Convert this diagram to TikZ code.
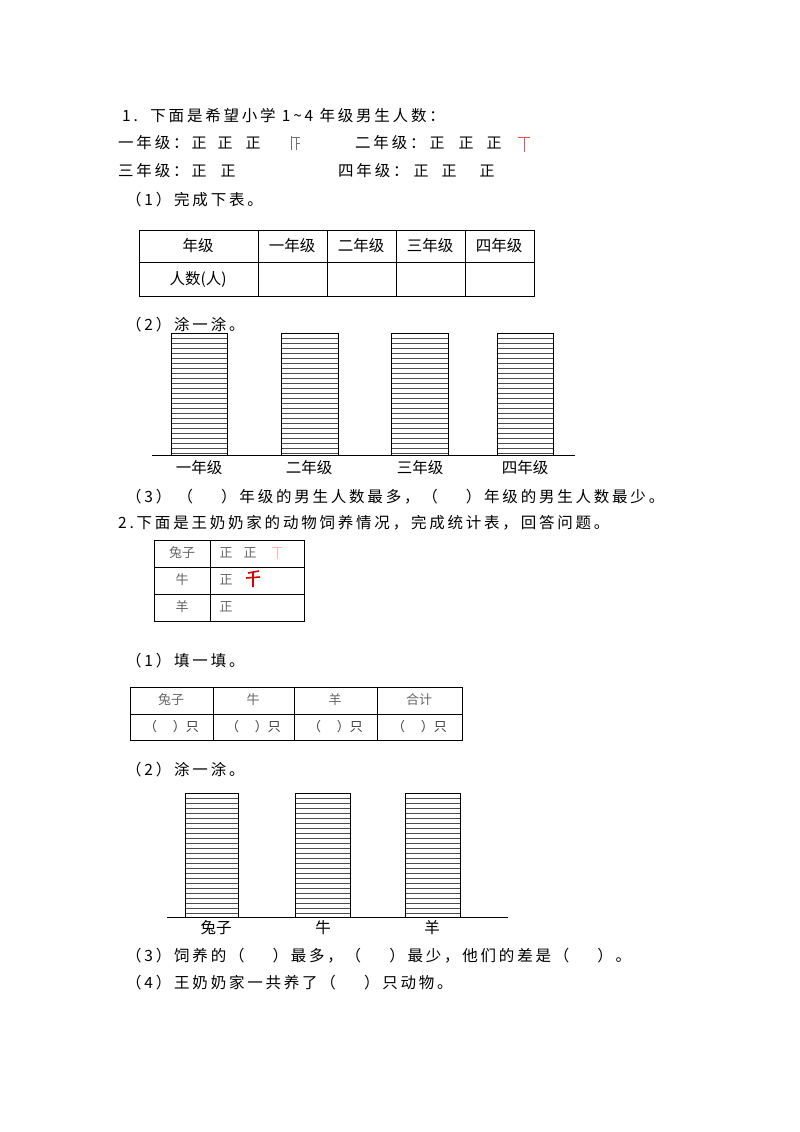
\documentclass[tikz,border=0pt]{standalone}
\usepackage{fontspec}
\setmainfont{Noto Sans CJK SC}[LetterSpace=18]
\newfontfamily\plainf{Noto Sans CJK SC}
\begin{document}
\begin{tikzpicture}[x=1pt,y=-1pt,
 t/.style={anchor=west,inner sep=0pt,font=\fontsize{15.5}{18}\selectfont},
 c/.style={anchor=center,inner sep=0pt,font=\plainf\fontsize{15.5}{18}\selectfont},
 tally/.style={anchor=center,inner sep=0pt,font=\plainf\fontsize{15}{18}\selectfont},
 s/.style={anchor=center,inner sep=0pt,font=\plainf\fontsize{13}{16}\selectfont,text=black!60}]
\useasboundingbox (0,0) rectangle (800,1132);
\fill[white] (0,0) rectangle (800,1132);
\node[t] (l1) at (122,116) {1.\ \ 下面是希望小学 1\textasciitilde 4 年级男生人数：};
\node[t] (l2) at (118,143) {一年级：};
\foreach \x in {199,225,253} \node[tally] at (\x,143) {正};
\draw[black!55,line width=0.8pt] (291,136)--(291,150) (291,137)--(300,137) (296,137)--(296,150) (296,143)--(300,143);
\node[t] (l2b) at (355,143) {二年级：};
\foreach \x in {437,466,494} \node[tally] at (\x,143) {正};
\draw[red!70,line width=0.9pt] (518,137)--(530,137) (524,137)--(524,152);
\node[t] (l3) at (118,171) {三年级：};
\foreach \x in {199,228} \node[tally] at (\x,171) {正};
\node[t] (l3b) at (338,171) {四年级：};
\foreach \x in {421,449,487} \node[tally] at (\x,171) {正};
\node[t] (q1) at (126,200) {（1）完成下表。};
% table 1
\draw[line width=0.9pt] (139,230) rectangle (534,296);
\draw[line width=0.7pt] (139,262)--(534,262);
\foreach \x in {258,327,396,465} \draw[line width=0.7pt] (\x,230)--(\x,296);
\node[c] (h0) at (198,246) {年级};
\node[c] (h1) at (292,246) {一年级};
\node[c] (h2) at (361,246) {二年级};
\node[c] (h3) at (430,246) {三年级};
\node[c] (h4) at (499,246) {四年级};
\node[c] (r0) at (198,279) {人数(人)};
\node[t] (q2) at (126,325) {（2）涂一涂。};
% chart 1
\foreach \a/\b in {171/227,281/338,391/448,497/553}{
 \foreach \k in {0,...,24} \draw[black!70,line width=0.5pt] (\a,333+\k*5)--(\b,333+\k*5);
 \draw[line width=0.8pt] (\a,333) rectangle (\b,455);}
\draw[line width=0.8pt] (152,455)--(575,455);
\node[c] (g1) at (199,468) {一年级};
\node[c] (g2) at (309,468) {二年级};
\node[c] (g3) at (420,468) {三年级};
\node[c] (g4) at (525,468) {四年级};
\node[t] (q3) at (126,497) {（3）\ （\quad\ \ ）年级的男生人数最多，（\quad\ \ ）年级的男生人数最少。};
\node[t] (p2) at (118,523) {2.下面是王奶奶家的动物饲养情况，完成统计表，回答问题。};
% table 2
\draw[line width=0.9pt] (154,540) rectangle (304,621);
\draw[line width=0.9pt] (154,567)--(304,567) (154,594)--(304,594) (210,540)--(210,621);
\node[s] (a1) at (182,553) {兔子};
\node[s] (a2) at (182,580) {牛};
\node[s] (a3) at (182,607) {羊};
\node[s] (b1) at (226,553) {正};
\node[s] (b1b) at (250,553) {正};
\draw[red!30,line width=0.8pt] (272,547)--(282,547) (277,547)--(277,559);
\node[s] (b2) at (226,580) {正};
\draw[red!85!black,line width=1.6pt] (248,573)--(259,571) (246,578)--(260,577) (253,572)--(253,587);
\node[s] (b3) at (226,607) {正};
\node[t] (q21) at (126,661) {（1）填一填。};
% table 3
\draw[line width=0.8pt] (130,687) rectangle (462,740);
\draw[line width=0.6pt] (130,714)--(462,714);
\foreach \x in {213,294,377} \draw[line width=0.6pt] (\x,687)--(\x,740);
\node[s] (c1) at (171,700) {兔子};
\node[s] (c2) at (253,700) {牛};
\node[s] (c3) at (335,700) {羊};
\node[s] (c4) at (419,700) {合计};
\foreach \m/\n in {130/213,213/294,294/377,377/462}
 \node[s,text=black!75] at ({(\m+\n)/2},727) {（\quad\ ）只};
\node[t] (q22) at (126,770) {（2）涂一涂。};
% chart 2
\foreach \a/\b in {185/238,295/350,405/460}{
 \foreach \k in {0,...,24} \draw[black!70,line width=0.5pt] (\a,793+\k*5)--(\b,793+\k*5);
 \draw[line width=0.8pt] (\a,793) rectangle (\b,917);}
\draw[line width=0.8pt] (167,917)--(508,917);
\node[c] (d1) at (216,928) {兔子};
\node[c] (d2) at (323,928) {牛};
\node[c] (d3) at (432,928) {羊};
\node[t] (q23) at (126,956) {（3）饲养的（\quad\ \ ）最多，（\quad\ \ ）最少，他们的差是（\quad\ \ ）。};
\node[t] (q24) at (126,983) {（4）王奶奶家一共养了（\quad\ \ ）只动物。};
\end{tikzpicture}
\end{document}
